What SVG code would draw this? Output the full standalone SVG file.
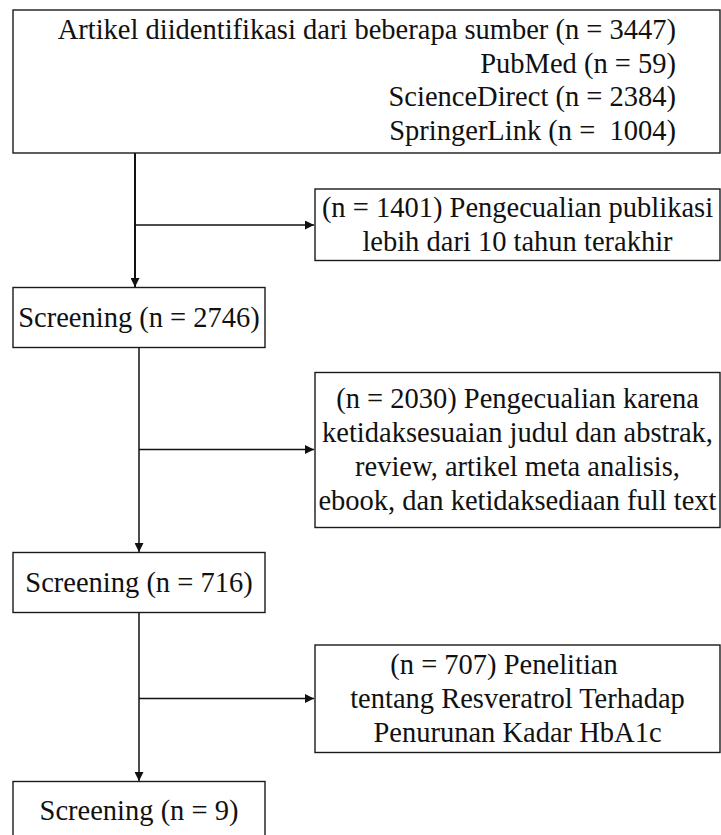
<svg xmlns="http://www.w3.org/2000/svg" width="721" height="835" viewBox="0 0 721 835">
<style>
.box{fill:#fff;stroke:#1a1a1a;stroke-width:1.4}
.t{font-family:"Liberation Serif","Times New Roman",serif;font-size:28.5px;fill:#111}
.c{text-anchor:middle}
.r{text-anchor:end}
.ln{fill:none;stroke:#111;stroke-width:1.5}
</style>
<defs>
<marker id="ah" viewBox="0 0 10 10" refX="10" refY="5" markerWidth="9" markerHeight="9" markerUnits="userSpaceOnUse" orient="auto">
<path d="M0,0 L10,5 L0,10 Z" fill="#111"/>
</marker>
</defs>
<rect width="721" height="835" fill="#fff"/>
<g id="connectors">
<path class="ln" style="stroke-width:2" d="M135,153 V287" marker-end="url(#ah)"/>
<path class="ln" d="M135,225 H314" marker-end="url(#ah)"/>
<path class="ln" d="M139,348 V552" marker-end="url(#ah)"/>
<path class="ln" d="M139,449.5 H314" marker-end="url(#ah)"/>
<path class="ln" d="M139,613 V781" marker-end="url(#ah)"/>
<path class="ln" d="M139,698.5 H314" marker-end="url(#ah)"/>
</g>
<g id="n-identified">
<rect class="box" x="13" y="10" width="707" height="143"/>
<text class="t r" x="676" y="39">Artikel diidentifikasi dari beberapa sumber (n = 3447)</text>
<text class="t r" x="676" y="72.5">PubMed (n = 59)</text>
<text class="t r" x="676" y="106">ScienceDirect (n = 2384)</text>
<text class="t r" x="676" y="139.5" xml:space="preserve">SpringerLink (n =  1004)</text>
</g>
<g id="n-excl1">
<rect class="box" x="315" y="189" width="405" height="71.5"/>
<text class="t c" x="517.5" y="217">(n = 1401) Pengecualian publikasi</text>
<text class="t c" x="517.5" y="251">lebih dari 10 tahun terakhir</text>
</g>
<g id="n-screen1">
<rect class="box" x="13" y="287.5" width="252" height="60"/>
<text class="t c" x="139" y="327">Screening (n = 2746)</text>
</g>
<g id="n-excl2">
<rect class="box" x="315" y="372.5" width="405" height="155"/>
<text class="t c" x="517.5" y="408">(n = 2030) Pengecualian karena</text>
<text class="t c" x="517.5" y="442">ketidaksesuaian judul dan abstrak,</text>
<text class="t c" x="517.5" y="476">review, artikel meta analisis,</text>
<text class="t c" x="517.5" y="510">ebook, dan ketidaksediaan full text</text>
</g>
<g id="n-screen2">
<rect class="box" x="13" y="552.5" width="252" height="60"/>
<text class="t c" x="139" y="591.5">Screening (n = 716)</text>
</g>
<g id="n-excl3">
<rect class="box" x="315" y="645" width="405" height="107.5"/>
<text class="t c" x="504" y="674">(n = 707) Penelitian</text>
<text class="t c" x="517.5" y="708">tentang Resveratrol Terhadap</text>
<text class="t c" x="517.5" y="742">Penurunan Kadar HbA1c</text>
</g>
<g id="n-screen3">
<rect class="box" x="13" y="781.5" width="252" height="60"/>
<text class="t c" x="139" y="820">Screening (n = 9)</text>
</g>
</svg>
